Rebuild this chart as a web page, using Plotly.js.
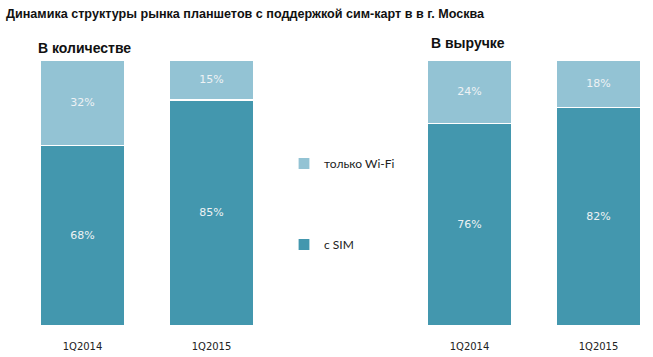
<!DOCTYPE html>
<html>
<head>
<meta charset="utf-8">
<script src="https://cdn.plot.ly/plotly-3.0.1.min.js"></script>
<style>html,body{margin:0;padding:0;background:#fff;}#chart{width:653px;height:357px;}</style>
</head>
<body>
<div id="chart"></div>
<script>
var categories = ["1Q2014", "1Q2015"];
var countSim = [68, 85];
var countWifi = [32, 15];
var revenueSim = [76, 82];
var revenueWifi = [24, 18];
var seriesNames = ["с SIM", "только Wi-Fi"];
var titleText = "Динамика структуры рынка планшетов с поддержкой сим-карт в в г. Москва";
var subTitles = ["В количестве", "В выручке"];

var darkColor = "#4397ae";
var lightColor = "#93c3d4";
var W = 653, H = 357;
function px(x){return x / W;}
function py(y){return 1 - y / H;}

function pct(arr){return arr.map(function(v){return v + "%";});}

function barTrace(xa, ya, vals, name, color, showlegend, rank){
  return {
    type: "bar", x: categories, y: vals, name: name,
    xaxis: xa, yaxis: ya,
    marker: {color: color, line: {color: "#ffffff", width: 1.2}},
    width: 0.66,
    text: pct(vals), textposition: "inside", insidetextanchor: "middle",
    textfont: {family: "DejaVu Sans", size: 11, color: "#eef2f4"},
    textangle: 0,
    hoverinfo: "none",
    showlegend: showlegend, legendgroup: name, legendrank: rank
  };
}

var data = [
  barTrace("x", "y", countSim, seriesNames[0], darkColor, true, 2),
  barTrace("x", "y", countWifi, seriesNames[1], lightColor, true, 1),
  barTrace("x2", "y2", revenueSim, seriesNames[0], darkColor, false, 2),
  barTrace("x2", "y2", revenueWifi, seriesNames[1], lightColor, false, 1)
];

var tickFont = {family: "DejaVu Sans", size: 10, color: "#222"};
var yTop = py(60), yBot = py(326);

var layout = {
  width: W, height: H,
  margin: {l: 0, r: 0, t: 0, b: 0},
  paper_bgcolor: "#ffffff", plot_bgcolor: "rgba(0,0,0,0)",
  barmode: "stack",
  showlegend: true,
  legend: {
    x: px(284), y: py(149), xanchor: "left", yanchor: "top",
    font: {family: "Lato", size: 12, color: "#222"},
    tracegroupgap: 62, itemwidth: 30,
    bgcolor: "rgba(0,0,0,0)"
  },
  xaxis: {domain: [px(82.5 - 0.4*129), px(211.5 + 0.4*129)], range: [-0.4, 1.4], type: "category",
          showgrid: false, zeroline: false, showline: false, ticks: "", tickfont: tickFont, ticklabelstandoff: 13, fixedrange: true},
  yaxis: {domain: [yBot, yTop], range: [0, 100], visible: false, fixedrange: true},
  xaxis2: {domain: [px(469.5 - 0.4*129), px(598.5 + 0.4*129)], range: [-0.4, 1.4], type: "category", anchor: "y2",
          showgrid: false, zeroline: false, showline: false, ticks: "", tickfont: tickFont, ticklabelstandoff: 13, fixedrange: true},
  yaxis2: {domain: [yBot, yTop], range: [0, 100], visible: false, anchor: "x2", fixedrange: true},
  annotations: [
    {text: "<b>" + titleText + "</b>", xref: "paper", yref: "paper", x: px(4), y: py(14), xanchor: "left", yanchor: "middle",
     showarrow: false, font: {family: "Liberation Sans", size: 12.6, color: "#111"}},
    {text: "<b>" + subTitles[0] + "</b>", xref: "paper", yref: "paper", x: px(36), y: py(48), xanchor: "left", yanchor: "middle",
     showarrow: false, font: {family: "Liberation Sans", size: 14, color: "#111"}},
    {text: "<b>" + subTitles[1] + "</b>", xref: "paper", yref: "paper", x: px(429), y: py(43), xanchor: "left", yanchor: "middle",
     showarrow: false, font: {family: "Liberation Sans", size: 14, color: "#111"}}
  ]
};

Plotly.newPlot("chart", data, layout, {displayModeBar: false, staticPlot: true});
</script>
</body>
</html>
